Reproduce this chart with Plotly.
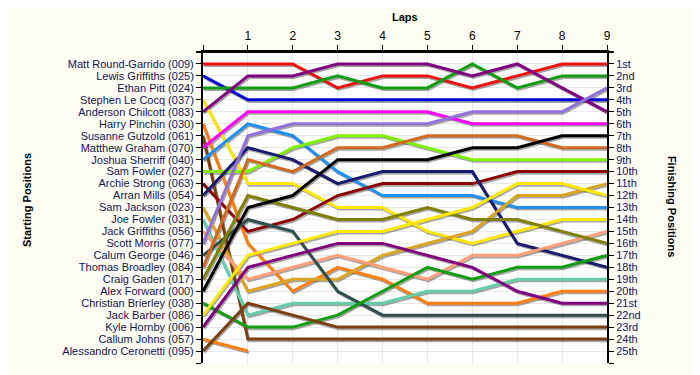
import plotly.graph_objects as go

laps = [0, 1, 2, 3, 4, 5, 6, 7, 8, 9]

drivers = [
    "Matt Round-Garrido (009)", "Lewis Griffiths (025)", "Ethan Pitt (024)",
    "Stephen Le Cocq (037)", "Anderson Chilcott (083)", "Harry Pinchin (030)",
    "Susanne Gutzold (061)", "Matthew Graham (070)", "Joshua Sherriff (040)",
    "Sam Fowler (027)", "Archie Strong (063)", "Arran Mills (054)",
    "Sam Jackson (023)", "Joe Fowler (031)", "Jack Griffiths (056)",
    "Scott Morris (077)", "Calum George (046)", "Thomas Broadley (084)",
    "Craig Gaden (017)", "Alex Forward (000)", "Christian Brierley (038)",
    "Jack Barber (086)", "Kyle Hornby (006)", "Callum Johns (057)",
    "Alessandro Ceronetti (095)",
]

positions = {
    "Matt Round-Garrido (009)":   [1, 1, 1, 3, 2, 2, 3, 2, 1, 1],
    "Lewis Griffiths (025)":      [2, 4, 4, 4, 4, 4, 4, 4, 4, 4],
    "Ethan Pitt (024)":           [3, 3, 3, 2, 3, 3, 1, 3, 2, 2],
    "Stephen Le Cocq (037)":      [4, 11, 11, 13, 13, 15, 16, 15, 14, 14],
    "Anderson Chilcott (083)":    [5, 2, 2, 1, 1, 1, 2, 1, 3, 5],
    "Harry Pinchin (030)":        [6, 16, 20, 18, 19, 21, 21, 21, 20, 20],
    "Susanne Gutzold (061)":      [7, 24, 24, 24, 24, 24, 24, 24, 24, 24],
    "Matthew Graham (070)":       [8, 5, 5, 5, 5, 5, 6, 6, 6, 6],
    "Joshua Sherriff (040)":      [9, 6, 7, 10, 12, 12, 12, 13, 13, 13],
    "Sam Fowler (027)":           [10, 10, 8, 7, 7, 8, 9, 9, 9, 9],
    "Archie Strong (063)":        [11, 15, 14, 12, 11, 11, 11, 10, 10, 10],
    "Arran Mills (054)":          [12, 8, 9, 11, 10, 10, 10, 16, 17, 18],
    "Sam Jackson (023)":          [13, 20, 19, 19, 17, 16, 15, 12, 12, 11],
    "Joe Fowler (031)":           [14, 22, 21, 21, 21, 20, 20, 19, 19, 19],
    "Jack Griffiths (056)":       [15, 19, 18, 17, 18, 19, 17, 17, 16, 15],
    "Scott Morris (077)":         [16, 7, 6, 6, 6, 6, 5, 5, 5, 3],
    "Calum George (046)":         [17, 14, 15, 20, 22, 22, 22, 22, 22, 22],
    "Thomas Broadley (084)":      [18, 9, 10, 8, 8, 7, 7, 7, 8, 8],
    "Craig Gaden (017)":          [19, 12, 13, 14, 14, 13, 14, 14, 15, 16],
    "Alex Forward (000)":         [20, 13, 12, 9, 9, 9, 8, 8, 7, 7],
    "Christian Brierley (038)":   [21, 23, 23, 22, 20, 18, 19, 18, 18, 17],
    "Jack Barber (086)":          [22, 17, 16, 15, 15, 14, 13, 11, 11, 12],
    "Kyle Hornby (006)":          [23, 18, 17, 16, 16, 17, 18, 20, 21, 21],
    "Callum Johns (057)":         [24, 25],
    "Alessandro Ceronetti (095)": [25, 21, 22, 23, 23, 23, 23, 23, 23, 23],
}

colors = {
    "Matt Round-Garrido (009)": "#F01010",
    "Lewis Griffiths (025)": "#0000D8",
    "Ethan Pitt (024)": "#109E10",
    "Stephen Le Cocq (037)": "#FFE800",
    "Anderson Chilcott (083)": "#800080",
    "Harry Pinchin (030)": "#FF7F0E",
    "Susanne Gutzold (061)": "#7A4010",
    "Matthew Graham (070)": "#FF00FF",
    "Joshua Sherriff (040)": "#2090F0",
    "Sam Fowler (027)": "#80F000",
    "Archie Strong (063)": "#8B0000",
    "Arran Mills (054)": "#1A1A70",
    "Sam Jackson (023)": "#DAA520",
    "Joe Fowler (031)": "#66CDAA",
    "Jack Griffiths (056)": "#FFA07A",
    "Scott Morris (077)": "#9370DB",
    "Calum George (046)": "#2F4F4F",
    "Thomas Broadley (084)": "#D2691E",
    "Craig Gaden (017)": "#808000",
    "Alex Forward (000)": "#000000",
    "Christian Brierley (038)": "#109E10",
    "Jack Barber (086)": "#FFE800",
    "Kyle Hornby (006)": "#800080",
    "Callum Johns (057)": "#FF7F0E",
    "Alessandro Ceronetti (095)": "#7A4010",
}

ordinals = ["1st", "2nd", "3rd", "4th", "5th", "6th", "7th", "8th", "9th", "10th",
            "11th", "12th", "13th", "14th", "15th", "16th", "17th", "18th", "19th",
            "20th", "21st", "22nd", "23rd", "24th", "25th"]

fig = go.Figure()

# shadows
for d in drivers:
    ys = positions[d]
    xs = laps[:len(ys)]
    fig.add_trace(go.Scatter(
        x=[x + 0.025 for x in xs], y=[y + 0.13 for y in ys], mode="lines",
        line=dict(color="rgba(60,60,60,0.45)", width=3),
        hoverinfo="skip", showlegend=False))
for d in drivers:
    ys = positions[d]
    xs = laps[:len(ys)]
    fig.add_trace(go.Scatter(
        x=xs, y=ys, mode="lines", name=d,
        line=dict(color=colors[d], width=3),
        showlegend=False))

# dummy trace for the right axis
fig.add_trace(go.Scatter(x=[0], y=[1], yaxis="y2", mode="markers",
                         marker=dict(opacity=0), hoverinfo="skip", showlegend=False))

yrange = [26, 0]
tickvals = list(range(1, 27))
FAM = "Liberation Sans, Arial, sans-serif"
labcol = "#141450"

fig.update_layout(
    width=700, height=375,
    margin=dict(l=195, r=101, t=44, b=20, autoexpand=False),
    paper_bgcolor="#FDFDF3",
    plot_bgcolor="#FFFFFF",
    font=dict(family=FAM, size=11),
    xaxis=dict(
        side="top", range=[0, 9], tickvals=laps,
        ticktext=[""] + [str(v) for v in laps[1:]],
        ticks="outside", ticklen=5, tickcolor="black", tickwidth=1,
        showline=True, linecolor="black", linewidth=2,
        showgrid=True, gridcolor="#E8E8E8", gridwidth=1, zeroline=False,
        automargin=False,
        tickfont=dict(color="black", size=12, family=FAM),
    ),
    yaxis=dict(
        range=yrange, tickvals=tickvals, ticktext=drivers + [""],
        ticks="outside", ticklen=5, tickcolor="black",
        showline=True, linecolor="black", linewidth=2,
        showgrid=True, gridcolor="#E8E8E8", gridwidth=1, zeroline=False,
        automargin=False,
        tickfont=dict(color=labcol, size=11, family=FAM),
    ),
    yaxis2=dict(
        range=yrange, overlaying="y", side="right", tickvals=tickvals,
        ticktext=ordinals + [""],
        ticks="outside", ticklen=5, tickcolor="black",
        showline=True, linecolor="black", linewidth=2,
        showgrid=False, zeroline=False, automargin=False,
        tickfont=dict(color=labcol, size=11, family=FAM),
    ),
    annotations=[
        dict(text="<b>Laps</b>", x=0.5, y=1.1125, xref="paper", yref="paper",
             xanchor="center", yanchor="middle",
             showarrow=False, font=dict(size=11, color="black", family=FAM)),
        dict(text="<b>Starting Positions</b>", x=-0.4356, y=0.524, xref="paper", yref="paper",
             xanchor="center", yanchor="middle",
             textangle=-90, showarrow=False, font=dict(size=11, color="black", family=FAM)),
        dict(text="<b>Finishing Positions</b>", x=1.161, y=0.505, xref="paper", yref="paper",
             xanchor="center", yanchor="middle",
             textangle=90, showarrow=False, font=dict(size=11, color="black", family=FAM)),
    ],
    shapes=[
        dict(type="line", xref="paper", yref="paper", x0=-0.017, x1=1.017, y0=1, y1=1,
             line=dict(color="black", width=2)),
    ],
)

fig.write_html("out.html")
